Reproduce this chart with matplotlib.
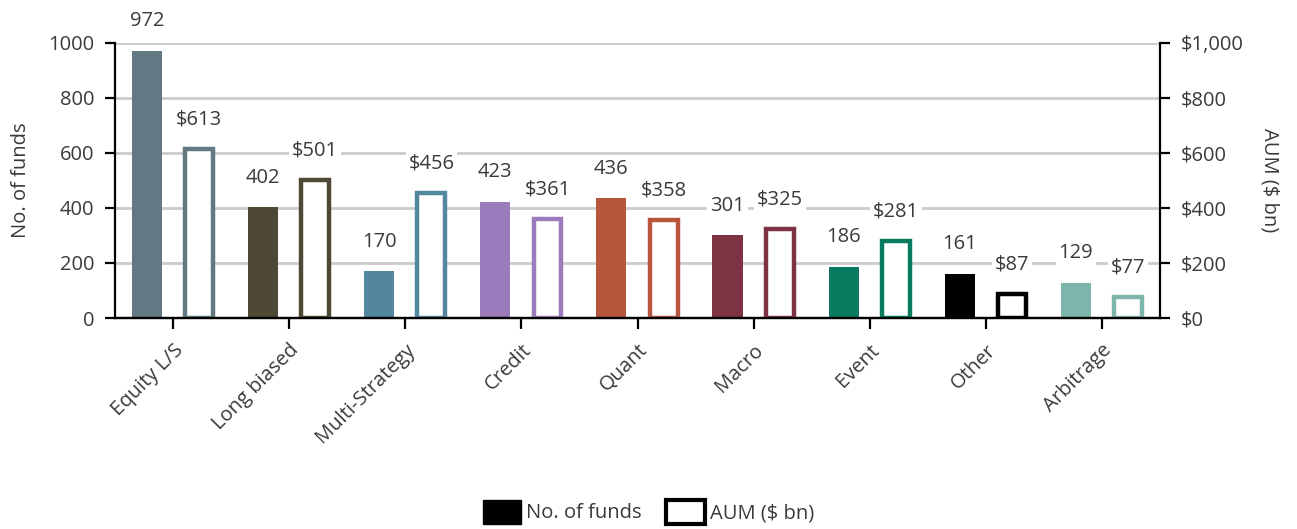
import matplotlib
matplotlib.use('Agg')
import matplotlib.pyplot as plt
from matplotlib.patches import Patch
from matplotlib.ticker import FuncFormatter
import numpy as np

categories = ['Equity L/S', 'Long biased', 'Multi-Strategy', 'Credit', 'Quant',
              'Macro', 'Event', 'Other', 'Arbitrage']
n_funds = [972, 402, 170, 423, 436, 301, 186, 161, 129]
aum = [613, 501, 456, 361, 358, 325, 281, 87, 77]
colors = ['#627983', '#4d4935', '#52879f', '#9b7bbb', '#b8553d',
          '#7d3344', '#087a5f', '#000000', '#7db5aa']

plt.rcParams['font.family'] = ['Open Sans', 'DejaVu Sans']
txt = '#3a3a3a'
fs = 14.5

fig = plt.figure(figsize=(12.97, 5.29), dpi=100)
ax1 = fig.add_axes([115 / 1297, 1 - 318 / 529, 1045 / 1297, 275 / 529])
ax2 = ax1.twinx()

x = np.arange(len(categories))
w = 0.26
off = 0.225

ax1.bar(x - off, n_funds, width=w, color=colors, zorder=2)
ax2.bar(x + off, aum, width=w - 0.02, facecolor='white', edgecolor=colors,
        linewidth=3.2, zorder=2)

ax1.set_ylim(0, 1000)
ax2.set_ylim(0, 1000)
ax1.set_xlim(-0.5, len(categories) - 0.5)
ax1.set_yticks(range(0, 1001, 200))
ax2.set_yticks(range(0, 1001, 200))
ax2.yaxis.set_major_formatter(FuncFormatter(lambda v, p: '${:,.0f}'.format(v)))

ax1.yaxis.grid(True, color='#cccccc', linewidth=2, zorder=0)
ax1.set_axisbelow(True)

# value labels with white boxes that break the gridlines
for i, v in enumerate(n_funds):
    ax1.annotate(str(v), (x[i] - off, v), xytext=(0, 14), textcoords='offset points',
                 ha='center', va='bottom', fontsize=fs, color=txt, zorder=5,
                 bbox=dict(facecolor='white', edgecolor='none', pad=2))
for i, v in enumerate(aum):
    ax2.annotate('$' + str(v), (x[i] + off, v), xytext=(0, 14), textcoords='offset points',
                 ha='center', va='bottom', fontsize=fs, color=txt, zorder=5,
                 bbox=dict(facecolor='white', edgecolor='none', pad=2))

for ax in (ax1, ax2):
    ax.spines['top'].set_visible(False)
    for s in ('left', 'right', 'bottom'):
        ax.spines[s].set_linewidth(1.6)
    ax.tick_params(axis='y', length=7, width=1.6, labelsize=fs, labelcolor=txt, pad=8)
ax1.spines['right'].set_visible(False)
ax2.spines['left'].set_visible(False)

ax1.set_xticks(x)
ax1.set_xticklabels(categories, rotation=45, ha='right', rotation_mode='anchor',
                    fontsize=fs, color=txt)
ax1.tick_params(axis='x', length=8, width=1.6, pad=8)

ax1.set_ylabel('No. of funds', fontsize=fs, color=txt, labelpad=12)
ax2.set_ylabel('AUM ($ bn)', fontsize=fs, color=txt, rotation=270, labelpad=26)

handles = [Patch(facecolor='black', edgecolor='black', label='No. of funds'),
           Patch(facecolor='white', edgecolor='black', linewidth=3, label='AUM ($ bn)')]
fig.legend(handles=handles, loc='lower center', bbox_to_anchor=(0.5, -0.025), ncol=2,
           frameon=False, fontsize=fs, handlelength=1.9, handleheight=1.5,
           handletextpad=0.25, columnspacing=1.2, labelcolor=txt)

fig.savefig('out.png', dpi=100)
